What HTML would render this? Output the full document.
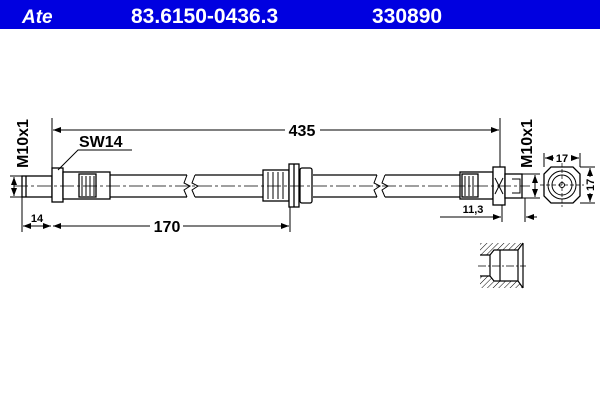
<html><body style="margin:0;width:600px;height:400px;background:#fff;overflow:hidden">
<svg width="600" height="400" xmlns="http://www.w3.org/2000/svg" font-family="Liberation Sans, Arial, sans-serif">
<defs>
<marker id="a" markerWidth="8" markerHeight="6" refX="8" refY="3" orient="auto" markerUnits="userSpaceOnUse"><path d="M0,0 L8,3 L0,6z" fill="#000"/></marker>
<marker id="b" markerWidth="8" markerHeight="6" refX="0" refY="3" orient="auto" markerUnits="userSpaceOnUse"><path d="M8,0 L0,3 L8,6z" fill="#000"/></marker>
<pattern id="h" width="4" height="4" patternUnits="userSpaceOnUse" patternTransform="rotate(45)"><line x1="0" y1="0" x2="0" y2="4" stroke="#000" stroke-width="1"/></pattern>
</defs>
<rect x="0" y="0" width="600" height="29" fill="#0000e0"/>
<text x="22" y="23" fill="#fff" font-size="19" font-style="italic" font-weight="bold">Ate</text>
<text x="131" y="23" fill="#fff" font-size="21" font-weight="bold">83.6150-0436.3</text>
<text x="372" y="23" fill="#fff" font-size="21" font-weight="bold">330890</text>
<g stroke="#000" stroke-width="1.3" fill="#fff">
<path d="M110,175 H187 M110,197 H187 M195,175 H263 M195,197 H263 M313,175 H377 M313,197 H377 M385,175 H460 M385,197 H460" fill="none"/>
<path d="M187,175 l-3,8 6,3 -6,4 3,7 M195,175 l-3,8 6,3 -6,4 3,7 M377,175 l-3,8 6,3 -6,4 3,7 M385,175 l-3,8 6,3 -6,4 3,7" fill="none" stroke-width="1"/>
<rect x="22" y="176" width="30" height="21"/>
<line x1="26" y1="176" x2="26" y2="197"/>
<rect x="52" y="168" width="11" height="34"/>
<rect x="63" y="172" width="47" height="27"/>
<rect x="79" y="174" width="17" height="23"/>
<path d="M82,176v20M86,176v20M90,176v20M94,176v20" stroke-width="1"/>
<rect x="263" y="170" width="26" height="31"/>
<path d="M268,172v27M273,172v27M278,172v27M283,172v27" stroke-width="1"/>
<rect x="289" y="164" width="10" height="43"/>
<line x1="294" y1="164" x2="294" y2="207"/>
<rect x="300" y="168" width="12" height="35" rx="2"/>
<rect x="460" y="172" width="33" height="27"/>
<rect x="462" y="174" width="16" height="23"/>
<path d="M465,176v20M469,176v20M473,176v20" stroke-width="1"/>
<rect x="493" y="167" width="12" height="38"/>
<path d="M495,178 L503,194 M503,178 L495,194" stroke-width="1"/>
<rect x="505" y="174" width="17" height="24"/>
<path d="M512,179h8v14h-8" fill="none" stroke-width="1"/>
</g>
<line x1="14" y1="186" x2="530" y2="186" stroke="#000" stroke-width="0.8" stroke-dasharray="14,3,3,3"/>
<g stroke="#000" stroke-width="1" fill="none">
<line x1="52" y1="118" x2="52" y2="168"/><line x1="500" y1="118" x2="500" y2="167"/>
<line x1="53" y1="130" x2="285" y2="130" marker-start="url(#b)"/><line x1="320" y1="130" x2="499" y2="130" marker-end="url(#a)"/>
<line x1="10" y1="176" x2="22" y2="176"/><line x1="10" y1="197" x2="22" y2="197"/>
<line x1="14" y1="177" x2="14" y2="196" marker-start="url(#b)" marker-end="url(#a)"/>
<path d="M58,170 L78,150 H132"/>
<line x1="22" y1="197" x2="22" y2="232"/><line x1="290" y1="207" x2="290" y2="232"/>
<line x1="23" y1="226" x2="51" y2="226" marker-start="url(#b)" marker-end="url(#a)"/>
<line x1="53" y1="226" x2="150" y2="226" marker-start="url(#b)"/><line x1="183" y1="226" x2="289" y2="226" marker-end="url(#a)"/>
<line x1="502" y1="205" x2="502" y2="222"/><line x1="525" y1="198" x2="525" y2="222"/>
<line x1="440" y1="217" x2="501" y2="217" marker-end="url(#a)"/><line x1="537" y1="217" x2="526" y2="217" marker-end="url(#a)"/>
<line x1="522" y1="174" x2="540" y2="174"/><line x1="522" y1="198" x2="540" y2="198"/>
<line x1="535" y1="175" x2="535" y2="197" marker-start="url(#b)" marker-end="url(#a)"/>
<path d="M551,167 H573 L580,174 V196 L573,203 H551 L544,196 V174 Z" stroke-width="1.3"/>
<circle cx="562" cy="185" r="14"/><circle cx="562" cy="185" r="10"/><circle cx="562" cy="185" r="2.5"/>
<path d="M562,163v44M540,185h44" stroke-width="0.7" stroke-dasharray="4,2"/>
<line x1="544" y1="153" x2="544" y2="167"/><line x1="580" y1="153" x2="580" y2="167"/>
<line x1="545" y1="158" x2="554" y2="158" marker-start="url(#b)"/><line x1="571" y1="158" x2="579" y2="158" marker-end="url(#a)"/>
<line x1="580" y1="167" x2="595" y2="167"/><line x1="580" y1="203" x2="595" y2="203"/>
<line x1="590" y1="168" x2="590" y2="177" marker-start="url(#b)"/><line x1="590" y1="193" x2="590" y2="202" marker-end="url(#a)"/>
</g>
<!-- section -->
<path fill-rule="evenodd" d="M480,243 H523 V288 H480 Z M480,255 H490 L494,250 H518 L523,243 V288 L518,281 H494 L490,276 H480 Z" fill="url(#h)" stroke="none"/>
<path d="M480,255 H490 L494,250 H518 L523,243 M480,276 H490 L494,281 H518 L523,288 M490,255 V276 M500,250 V281 M518,250 V281 M523,243 V288" fill="none" stroke="#000" stroke-width="1.2"/>
<line x1="478" y1="266" x2="526" y2="266" stroke="#000" stroke-width="0.7" stroke-dasharray="8,2,2,2"/>
<g font-weight="bold" fill="#000">
<text x="302" y="136" font-size="16" text-anchor="middle">435</text>
<text x="79" y="147" font-size="16">SW14</text>
<text x="37" y="222" font-size="11" text-anchor="middle">14</text>
<text x="167" y="232" font-size="16" text-anchor="middle">170</text>
<text x="473" y="213" font-size="11" text-anchor="middle">11,3</text>
<text x="562" y="162" font-size="11" text-anchor="middle">17</text>
<text font-size="16" transform="translate(28,168) rotate(-90)">M10x1</text>
<text font-size="16" transform="translate(532,168) rotate(-90)">M10x1</text>
<text font-size="11" transform="translate(594,191) rotate(-90)">17</text>
</g>
</svg>
</body></html>
